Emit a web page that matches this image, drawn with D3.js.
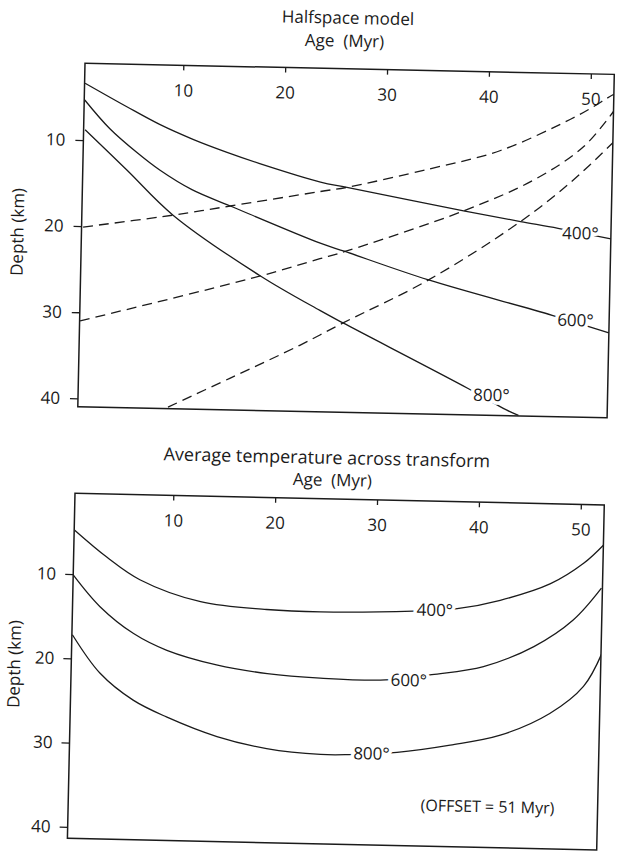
<!DOCTYPE html>
<html>
<head>
<meta charset="utf-8">
<script src="https://cdn.jsdelivr.net/npm/d3@7"></script>
<style>
  body { margin: 0; background: #fff; }
  text { font-family: "Open Sans", "Noto Sans", sans-serif; fill: #1b1b1b; }
</style>
</head>
<body>
<svg id="fig" width="621" height="855"></svg>
<script>
// tick values on both panels
var ageTicks = [10, 20, 30, 40, 50];
var depthTicks = [10, 20, 30, 40];

// Halfspace model, isotherm depth (km) against age (Myr)
var hs400 = [[0.4,3.4],[4.5,6.0],[7.8,8.0],[11.1,9.65],[14.4,11.05],[17.7,12.3],[23.7,14.3],[26.3,14.85],[37.8,17.3],[43.4,18.4],[47.1,19.1],[52.3,20.2]];
var hs600 = [[0.4,5.35],[2.9,8.6],[5.6,11.3],[7.9,13.3],[11.1,15.5],[14.9,17.3],[23.8,21.4],[26.25,22.3],[34.5,25.4],[46.7,29.2],[52.3,31.1]];
var hs800 = [[0.5,8.8],[4.7,13.4],[9.3,18.5],[18.0,25.35],[23.9,29.2],[26.2,30.6],[38.6,37.9],[42.4,40.3],[43.6,40.9]];
// same isotherms seen from the older plate across the transform (dashed)
var hsOld400 = [[0.5,20.1],[9.3,18.5],[14.9,17.3],[23.7,15.4],[26.3,14.85],[34.4,12.5],[41.3,10.2],[48.1,6.4],[50.3,4.9],[51.6,3.9],[52.3,3.4]];
var hsOld600 = [[0.4,31.0],[18.0,25.35],[23.8,23.2],[26.25,22.3],[37.8,17.3],[44.6,13.55],[49.4,9.6],[52.3,5.4]];
var hsOld800 = [[9.2,40.8],[15.2,37.3],[22.0,33.3],[26.2,30.6],[34.5,25.4],[43.4,18.4],[48.5,13.45],[52.4,8.9]];

// Average temperature across transform
var avg400 = [[0.4,4.8],[3.6,7.9],[6.9,10.5],[12.9,12.95],[19.4,13.7],[24.7,13.85],[33.8,13.5],[38.1,13.1],[42.3,12.0],[47.2,9.9],[50.4,7.4],[52.3,5.2]];
var avg600 = [[0.35,10.1],[3.05,13.8],[6.4,16.9],[9.7,18.8],[14.6,20.4],[19.6,21.3],[24.8,21.7],[31.2,21.75],[35.75,21.0],[40.8,19.9],[45.7,17.4],[49.5,14.15],[52.2,10.3]];
var avg800 = [[0.4,17.2],[3.2,21.7],[6.5,24.8],[9.8,26.7],[14.8,28.9],[19.7,30.2],[25.0,30.75],[27.7,30.7],[32.5,30.3],[37.7,29.3],[42.6,28.0],[47.4,25.3],[50.65,22.0],[52.4,18.0]];

// isotherm labels: text, age, depth
var hsLabels = [["400°", 49.3, 19.6], ["600°", 49.0, 29.7], ["800°", 40.9, 38.6]];
var avgLabels = [["400°", 35.9, 13.3], ["600°", 33.5, 21.7], ["800°", 30.0, 30.5]];

var svg = d3.select("#fig");

function drawPanel(cfg) {
    // the scanned figure is slightly tilted, so each panel is drawn in a rotated group
    var g = svg.append("g")
        .attr("transform", "translate(" + cfg.origin[0] + "," + cfg.origin[1] + ") rotate(" + cfg.tilt + ")");

    var x = d3.scaleLinear().domain(cfg.ageDomain).range([0, cfg.width]);
    var y = d3.scaleLinear().domain(cfg.depthDomain).range([0, cfg.height]);

    g.append("clipPath").attr("id", cfg.id + "-clip")
      .append("rect").attr("width", cfg.width).attr("height", cfg.height);

    var line = d3.line()
        .x(function(d) { return x(d[0]); })
        .y(function(d) { return y(d[1]); })
        .curve(d3.curveCatmullRom.alpha(0.5));

    var plot = g.append("g").attr("clip-path", "url(#" + cfg.id + "-clip)");
    cfg.series.forEach(function(s) {
        plot.append("path")
            .datum(s.data)
            .attr("d", line)
            .attr("fill", "none")
            .attr("stroke", "#1b1b1b")
            .attr("stroke-width", 1.3)
            .attr("stroke-dasharray", s.dashed ? "10,6" : null);
    });

    // labels sit on the curves, with a white halo cutting the line
    g.selectAll(".iso")
        .data(cfg.labels)
        .enter().append("text")
        .attr("class", "iso")
        .attr("x", function(d) { return x(d[1]); })
        .attr("y", function(d) { return y(d[2]); })
        .attr("dy", "0.36em")
        .attr("text-anchor", "middle")
        .style("font-size", "17px")
        .style("stroke", "#fff")
        .style("stroke-width", 7)
        .style("paint-order", "stroke")
        .text(function(d) { return d[0]; });

    // frame
    g.append("rect")
        .attr("width", cfg.width).attr("height", cfg.height)
        .attr("fill", "none").attr("stroke", "#1b1b1b").attr("stroke-width", 1.5);

    // age axis along the top, ticks and labels inside the frame
    var top = g.append("g")
        .call(d3.axisBottom(x).tickValues(ageTicks).tickSize(5).tickPadding(14));
    top.select(".domain").remove();

    var left = g.append("g")
        .call(d3.axisLeft(y).tickValues(depthTicks).tickSize(8).tickPadding(cfg.leftPad));
    left.select(".domain").remove();

    g.selectAll(".tick line").attr("stroke", "#1b1b1b").attr("stroke-width", 1.3);
    g.selectAll(".tick text")
        .style("font-size", "17px")
        .style("font-family", "'Open Sans', 'Noto Sans', sans-serif")
        .attr("fill", "#1b1b1b");

    // titles: text, x, y, font size
    cfg.titles.forEach(function(t) {
        g.append("text")
            .attr("x", t[1]).attr("y", t[2])
            .attr("text-anchor", "middle")
            .style("font-size", t[3] + "px")
            .text(t[0]);
    });

    g.append("text")
        .attr("transform", "translate(" + cfg.yLabelPos[0] + "," + cfg.yLabelPos[1] + ") rotate(-90)")
        .attr("text-anchor", "middle")
        .style("font-size", "17px")
        .text("Depth (km)");

    if (cfg.note) {
        g.append("text")
            .attr("x", x(cfg.note[1])).attr("y", y(cfg.note[2]))
            .attr("dy", "0.36em")
            .attr("text-anchor", "middle")
            .style("font-size", "16px")
            .text(cfg.note[0]);
    }
}

drawPanel({
    id: "hs",
    origin: [85, 63.3], tilt: 1.2,
    width: 529.4, height: 343.5,
    ageDomain: [0.35, 52.3], depthDomain: [1.09, 40.97],
    leftPad: 10,
    series: [
        { data: hs400 }, { data: hs600 }, { data: hs800 },
        { data: hsOld400, dashed: true }, { data: hsOld600, dashed: true }, { data: hsOld800, dashed: true }
    ],
    labels: hsLabels,
    titles: [["Halfspace model", 262, -45, 17], ["Age\u00a0\u00a0(Myr)", 259, -22, 17]],
    yLabelPos: [-58, 170]
});

drawPanel({
    id: "avg",
    origin: [75, 493.3], tilt: 1.26,
    width: 529.4, height: 345.1,
    ageDomain: [0.35, 52.3], depthDomain: [0.42, 41.36],
    leftPad: 9,
    series: [{ data: avg400 }, { data: avg600 }, { data: avg800 }],
    labels: avgLabels,
    note: ["(OFFSET = 51 Myr)", 41.5, 36.5],
    titles: [["Average temperature across transform", 251, -35, 18], ["Age\u00a0\u00a0(Myr)", 257, -13, 17]],
    yLabelPos: [-51, 172]
});
</script>
</body>
</html>
